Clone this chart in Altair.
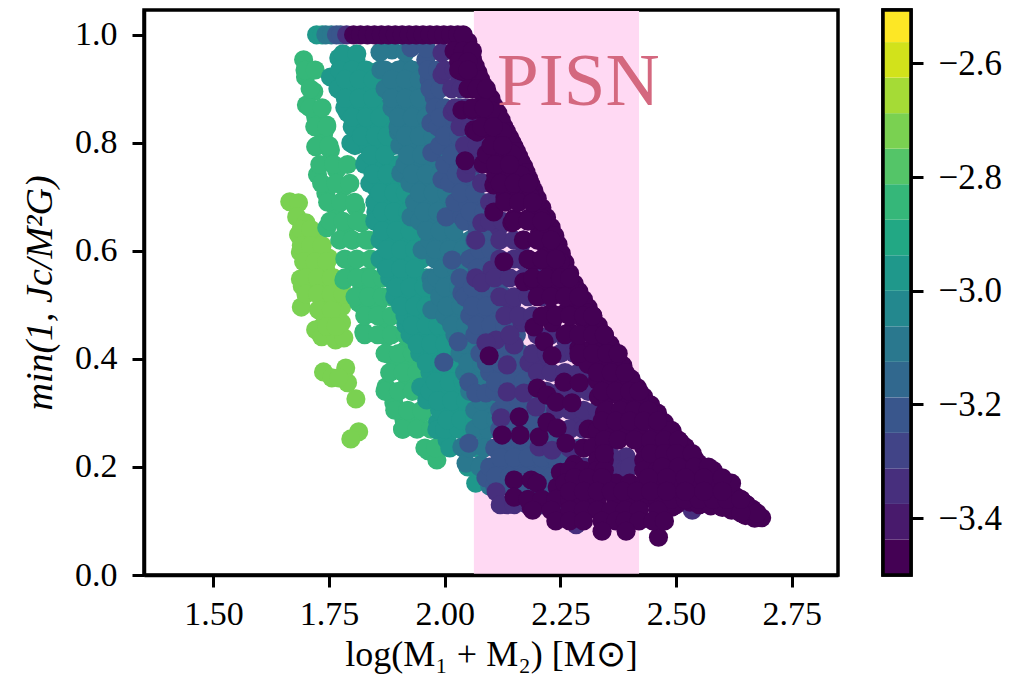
import altair as alt
import pandas as pd

VIRIDIS = ["#440154", "#481a6c", "#472f7d", "#414487", "#39568c", "#31688e", "#2a788e", "#23888e",
           "#1f988b", "#22a884", "#35b779", "#54c568", "#7ad151", "#a5db36", "#d2e21b", "#fde725"]
EDGES = [-3.5 + i / 16 for i in range(17)]

s12 = [(1.665,.691),(1.684,.689),(1.68,.663),(1.70,.652),(1.684,.630),(1.717,.633),(1.688,.598),(1.723,.606),
       (1.749,.587),(1.706,.578),(1.688,.548),(1.743,.565),(1.719,.593),(1.738,.546),(1.712,.528),(1.692,.535),
       (1.777,.528),(1.743,.509),(1.69,.496),(1.777,.496),(1.764,.485),(1.727,.491),(1.777,.467),(1.738,.463),
       (1.721,.454),(1.734,.441),(1.764,.435),(1.782,.439),(1.749,.469),(1.76,.51),(1.76,.55),(1.72,.56),
       (1.738,.376),(1.756,.365),(1.786,.383),(1.79,.356),(1.771,.365),(1.808,.326),(1.814,.265),(1.797,.252)]
r12 = [(.64,[1.69,1.71]),(.61,[1.69,1.71,1.735]),(.58,[1.695,1.72,1.745]),(.55,[1.70,1.725,1.755]),
       (.52,[1.70,1.725,1.755,1.78]),(.49,[1.73,1.755]),(.46,[1.745,1.765])]
s10 = [(1.695,.954),(1.699,.922),(1.717,.895),(1.701,.870),(1.721,.848),(1.745,.833),(1.738,.815),(1.721,.793),
       (1.753,.787),(1.725,.741),(1.766,.750),(1.743,.707),(1.782,.719),(1.764,.681),(1.808,.681),(1.745,.643),
       (1.786,.644),(1.82,.652),(1.80,.620),(1.836,.620),(1.80,.578),(1.842,.583),(1.782,.546),(1.829,.552),
       (1.82,.528),(1.842,.533),(1.84,.485),(1.814,.504),(1.857,.504),(1.873,.472),(1.825,.45),(1.875,.441),
       (1.883,.407),(1.916,.417),(1.90,.385),(1.922,.389),(1.873,.348),(1.89,.319),(1.916,.348),(1.912,.287),
       (1.909,.270),(1.938,.287),(1.951,.30),(1.964,.23),(1.983,.213)]
r10 = [(.935,[1.698,1.72]),(.90,[1.709]),(.865,[1.709,1.735]),(.83,[1.719,1.745]),(.795,[1.724,1.75]),
       (.76,[1.73,1.76,1.79]),(.725,[1.734,1.765,1.795]),(.69,[1.747,1.775,1.805]),(.655,[1.752,1.78,1.81]),
       (.62,[1.773,1.80,1.83]),(.585,[1.784,1.81,1.84]),(.55,[1.784,1.81,1.84,1.865]),
       (.515,[1.806,1.835,1.865,1.885]),(.48,[1.827,1.855,1.885,1.905]),(.445,[1.827,1.855,1.885,1.915]),
       (.41,[1.871,1.90,1.93]),(.375,[1.881,1.91,1.94]),(.34,[1.871,1.90,1.93]),(.305,[1.892,1.92,1.95]),
       (.27,[1.909,1.94,1.97]),(.235,[1.957,1.98])]
s8 = [(1.723,1.0),(1.735,1.0),(1.771,.957),(1.753,.922),(1.775,.902),(1.808,.954),(1.814,.917),(1.79,.856),(1.829,.880),
      (1.84,.837),(1.797,.80),(1.829,.796),(1.864,.787),(1.829,.765),(1.875,.75),(1.851,.717),(1.886,.713),
      (1.851,.672),(1.90,.676),(1.873,.626),(1.916,.626),(1.873,.569),(1.907,.583),(1.938,.602),(1.894,.531),
      (1.929,.509),(1.916,.463),(1.938,.444),(1.966,.430),(1.959,.478),(1.994,.374),(2.024,.398),(2.016,.330),
      (2.046,.385),(2.046,.30),(1.948,.348),(1.961,.324),(1.985,.283),(1.983,.269),(2.005,.25),(2.067,.17),
      (1.78,.965),(1.81,.965)]
r8 = [(.935,[1.773,1.80,1.83,1.86]),(.90,[1.769,1.80,1.83,1.86]),(.865,[1.784,1.815,1.845,1.875]),
      (.83,[1.80,1.83,1.86,1.885]),(.795,[1.806,1.835,1.865,1.89]),(.76,[1.827,1.855,1.885,1.90]),
      (.725,[1.838,1.865,1.895,1.92]),(.69,[1.849,1.875,1.905,1.93]),(.655,[1.849,1.88,1.91,1.94]),
      (.62,[1.86,1.89,1.92,1.95]),(.585,[1.86,1.89,1.92,1.95]),(.55,[1.881,1.91,1.94,1.96]),
      (.515,[1.892,1.92,1.95,1.97]),(.48,[1.914,1.94,1.97,1.99]),(.445,[1.925,1.955,1.985,2.01]),
      (.41,[1.946,1.975,2.005,2.03]),(.375,[1.968,1.995,2.025,2.05]),(.34,[1.968,2.0,2.03,2.06]),
      (.305,[1.989,2.02,2.05,2.08]),(.27,[2.0,2.03,2.06,2.09]),(.235,[2.011,2.04,2.07]),(.20,[2.05,2.08]),
      (.9175,[1.785,1.815,1.845]),(.8825,[1.785,1.815,1.845]),(.8475,[1.80,1.83,1.86]),(.8125,[1.82,1.85,1.875]),
      (.7775,[1.84,1.87]),(.7425,[1.845,1.875,1.905]),(.7075,[1.86,1.89,1.915]),(.6725,[1.865,1.89,1.92]),
      (.6375,[1.865,1.895,1.925]),(.6025,[1.875,1.905,1.935]),(.5675,[1.875,1.905,1.935]),
      (.5325,[1.895,1.925,1.955]),(.4975,[1.905,1.935,1.96]),(.4625,[1.93,1.96,1.985]),(.4275,[1.94,1.97,2.0]),
      (.3925,[1.96,1.99,2.02]),(.3575,[1.98,2.01,2.04]),(.3225,[1.985,2.015,2.045]),(.2875,[2.005,2.035,2.065])]
s6 = [(1.743,1.0),(1.755,1.0),(1.862,.935),(1.886,.972),(1.916,.941),(1.883,.904),(1.907,.874),(1.938,.861),(1.90,.82),
      (1.938,.819),(1.927,.787),(1.905,.744),(1.944,.737),(1.959,.707),(1.927,.663),(1.966,.663),(2.003,.639),
      (1.951,.602),(1.987,.602),(1.97,.55),(2.016,.559),(2.03,.615),(1.972,.537),(1.972,.491),(2.009,.478),
      (2.03,.454),(2.059,.404),(2.083,.281),(2.078,.204),(2.037,.237),(2.046,.207),(2.085,.241),(2.102,.311),
      (1.86,.968),(1.915,.968)]
r6 = [(.935,[1.871,1.90,1.93,1.96]),(.90,[1.871,1.90,1.93,1.96]),(.865,[1.886,1.915,1.945,1.975]),
      (.83,[1.899,1.93,1.96,1.985]),(.795,[1.903,1.93,1.96,1.99]),(.76,[1.914,1.945,1.975,2.0]),
      (.725,[1.925,1.955,1.985,2.01]),(.69,[1.935,1.965,1.995,2.02]),(.655,[1.946,1.975,2.005,2.04]),
      (.62,[1.968,1.995,2.025,2.055]),(.585,[1.979,2.005,2.035,2.05]),(.55,[1.983,2.01,2.04]),
      (.515,[1.989,2.02,2.05]),(.48,[2.0,2.03,2.06]),(.445,[2.022,2.05,2.08]),(.41,[2.033,2.06,2.09]),
      (.375,[2.043,2.07,2.10]),(.34,[2.054,2.085,2.115]),(.305,[2.065,2.095,2.125]),(.27,[2.065,2.095,2.125]),
      (.235,[2.054,2.085,2.115]),(.20,[2.076,2.105]),(.165,[2.097,2.125]),
      (.9175,[1.885,1.915,1.945]),(.8825,[1.885,1.915,1.945]),(.8475,[1.90,1.93,1.96]),(.8125,[1.915,1.945,1.975]),
      (.7775,[1.92,1.95,1.98]),(.7425,[1.93,1.96,1.99]),(.7075,[1.945,1.975,2.005]),(.6725,[1.955,1.985,2.015]),
      (.6375,[1.96,1.99,2.02]),(.6025,[1.98,2.01,2.04]),(.5675,[1.995,2.025,2.05]),(.5325,[2.0,2.03]),
      (.4975,[2.005,2.035]),(.4625,[2.015,2.045]),(.4275,[2.04,2.07]),(.3925,[2.05,2.08]),(.3575,[2.06,2.09]),
      (.3225,[2.08,2.11]),(.2875,[2.08,2.11])]
s4 = [(1.766,1.0),(1.775,1.0),(1.927,.976),(1.959,.954),(1.966,.917),(1.977,.885),(1.994,.856),(1.97,.837),(2.003,.809),
      (1.972,.782),(1.994,.732),(2.031,.732),(2.059,.694),(2.003,.663),(2.037,.663),(2.08,.639),(2.016,.583),
      (2.059,.587),(2.102,.602),(2.037,.522),(2.059,.478),(2.096,.485),(2.029,.432),(1.998,.394),(2.052,.357),
      (2.067,.337),(2.089,.337),(2.052,.244),(2.089,.18),(2.122,.191),(2.132,.231),(2.176,.20),(1.96,.975)]
r4 = [(.935,[1.963,1.985]),(.90,[1.968,1.99]),(.865,[1.979,2.0,2.03]),(.83,[1.985,2.015,2.04]),
      (.795,[1.989,2.02,2.05]),(.76,[2.0,2.03,2.06]),(.725,[2.011,2.04,2.07]),(.69,[2.022,2.05,2.08]),
      (.655,[2.043,2.07,2.095]),(.62,[2.065,2.09,2.115]),(.585,[2.054,2.085,2.115]),
      (.55,[2.033,2.065,2.095,2.12]),(.515,[2.043,2.07,2.10,2.13]),(.48,[2.054,2.085,2.115,2.14]),
      (.445,[2.065,2.095,2.125,2.155]),(.41,[2.076,2.105,2.135,2.165]),(.375,[2.097,2.125,2.155,2.185]),
      (.34,[2.108,2.14,2.17,2.20]),(.305,[2.119,2.15,2.18,2.21,2.24]),(.27,[2.119,2.15,2.18,2.21,2.24,2.27]),
      (.235,[2.108,2.14,2.17,2.20,2.23,2.26,2.29]),(.20,[2.097,2.125,2.155,2.185,2.215,2.245,2.275,2.305]),
      (.165,[2.108,2.14,2.17,2.20,2.23,2.26,2.29]),(.13,[2.18,2.21,2.24,2.27,2.30]),
      (.8475,[1.99,2.02]),(.8125,[2.0,2.03]),(.7775,[2.015,2.045]),(.7425,[2.025,2.055]),(.7075,[2.035,2.065]),
      (.6725,[2.055,2.085]),(.6375,[2.07,2.10]),(.6025,[2.075,2.10]),(.5675,[2.07,2.10]),(.5325,[2.06,2.09,2.115]),
      (.4975,[2.06,2.09,2.12]),(.4625,[2.07,2.10,2.13]),(.4275,[2.09,2.12,2.15]),(.3925,[2.09,2.12,2.15,2.18]),
      (.3575,[2.11,2.14,2.17]),(.3225,[2.13,2.16,2.19]),(.2875,[2.135,2.165,2.195,2.225]),
      (.2525,[2.13,2.16,2.19,2.22,2.25]),(.2175,[2.12,2.15,2.18,2.21,2.24,2.27]),
      (.1825,[2.11,2.14,2.17,2.20,2.23,2.26])]
s2 = [(1.788,1.0),(1.994,.967),(1.994,.926),(2.024,.904),(2.016,.857),(2.037,.837),(2.067,.787),(2.046,.744),
      (2.08,.726),(2.08,.652),(2.117,.644),(2.067,.62),(2.167,.615),(2.102,.565),(2.067,.55),(2.167,.583),
      (2.08,.541),(2.145,.504),(2.167,.467),(2.111,.435),(2.089,.43),(2.15,.426),(2.135,.389),(2.182,.393),
      (2.21,.385),(2.135,.339),(2.171,.337),(2.122,.291),(2.197,.311),(2.204,.237),(2.232,.231),(2.291,.287),
      (2.319,.30),(2.111,.154),(2.135,.13),(2.284,.093),(2.535,.12),(2.392,.219),(2.262,.435),(2.327,.356),
      (2.36,.22),(2.37,.195),(2.39,.195),(2.35,.175)]
r2 = [(.935,[2.0,2.02]),(.90,[2.015,2.035]),(.865,[2.022,2.045]),(.83,[2.033,2.055]),(.795,[2.043,2.07]),
      (.76,[2.054,2.08]),(.725,[2.08,2.10]),(.69,[2.097,2.115]),(.655,[2.097,2.125]),(.62,[2.119,2.15,2.17]),
      (.585,[2.119,2.15,2.18]),(.55,[2.108,2.14,2.17,2.20]),(.515,[2.119,2.15,2.18,2.21]),
      (.48,[2.13,2.16,2.19,2.22]),(.445,[2.141,2.20,2.23,2.26]),(.41,[2.19,2.22,2.25,2.28,2.31]),
      (.375,[2.20,2.23,2.26,2.29,2.32]),(.34,[2.22,2.25,2.28,2.31,2.34]),(.305,[2.24,2.27,2.30,2.33]),
      (.27,[2.27,2.30,2.33]),(.235,[2.27,2.30]),(.20,[2.30,2.34,2.40]),(.13,[2.12,2.15,2.18,2.55])]
s0_points = [(2.044,.767),(2.083,.761),(2.037,.932),(2.037,.861),(2.063,.824),(2.106,.722),(2.106,.672),(2.145,.652),
             (2.128,.58),(2.171,.543),(2.193,.543),(2.208,.583),(2.096,.406),(2.193,.459),(2.232,.467),(2.215,.432),
             (2.232,.406),(2.20,.346),(2.221,.333),(2.241,.32),(2.258,.357),(2.291,.356),(2.275,.319),(2.332,.33),
             (2.291,.404),(2.161,.293),(2.124,.259),(2.163,.259),(2.204,.256),(2.221,.283),(2.243,.272),(2.262,.244),
             (2.15,.176),(2.187,.176),(2.15,.144),(2.187,.124),(2.243,.163),(2.241,.107),(2.462,.070),
             (2.30,.235),(2.28,.205),(2.25,.19),(2.28,.19),(2.31,.27)]
s0_edge = [(2.05,.987),(2.06,.955),(2.072,.93),(2.085,.905),(2.10,.882),(2.115,.855),(2.128,.83),(2.14,.81),
           (2.15,.793),(2.16,.775),(2.171,.756),(2.182,.733),(2.193,.711),(2.21,.68),(2.23,.644),(2.245,.612),
           (2.26,.578),(2.28,.539),(2.30,.51),(2.32,.48),(2.345,.444),(2.37,.41),(2.403,.363),(2.43,.33),
           (2.46,.30),(2.492,.265),(2.53,.225),(2.566,.189),(2.60,.165),(2.641,.139),(2.665,.122),(2.685,.106),
           (2.67,.105),(2.65,.11),(2.62,.12),(2.59,.13),(2.56,.135),(2.53,.135),(2.50,.13)]
s0_edge_mid = [(2.055,.97),(2.066,.942),(2.078,.917),(2.092,.893),(2.107,.868),(2.122,.842),(2.134,.82),(2.145,.801),
               (2.155,.784),(2.165,.765),(2.176,.745),(2.187,.722),(2.20,.697),(2.22,.662),(2.238,.628),(2.252,.595),
               (2.27,.558),(2.29,.525),(2.31,.495),(2.332,.462),(2.357,.427),(2.385,.388),(2.416,.347),(2.445,.315),
               (2.475,.282),(2.51,.245),(2.548,.207),(2.583,.177),(2.62,.152),(2.653,.13)]
s0_tail = [(2.52,.235),(2.54,.215),(2.555,.20),(2.575,.183),(2.59,.172),(2.61,.158),(2.63,.145),(2.65,.132),(2.675,.115),
           (2.55,.13),(2.575,.128),(2.60,.125),(2.64,.115),(2.47,.12),(2.49,.125)]
s0_inner = [(2.03,.96),(2.05,.93),(2.06,.90),(2.08,.87),(2.095,.845),(2.11,.815),(2.125,.785),(2.14,.76),(2.155,.73),
            (2.17,.70),(2.19,.665),(2.205,.635),(2.22,.605),(2.235,.575),(2.255,.54),(2.27,.51),(2.29,.48),(2.31,.45),
            (2.335,.415),(2.355,.385),(2.38,.35),(2.405,.32),(2.43,.29),(2.46,.26),(2.49,.23),(2.525,.195),(2.56,.165),
            (2.60,.145)]
s0_top = [1.803,1.818,1.833,1.848,1.863,1.878,1.893,1.908,1.923,1.938,1.953,1.968,1.983,1.998,2.013,2.028,2.04]
s0_rows = [(.97,[2.02,2.04,2.06]),(.95,[2.03,2.05]),(.90,[2.05,2.07,2.09]),(.86,[2.06,2.08,2.10]),
           (.82,[2.07,2.10,2.125]),(.78,[2.09,2.12,2.145]),(.74,[2.11,2.14,2.165]),(.70,[2.13,2.16,2.185]),
           (.66,[2.15,2.18,2.21]),(.62,[2.17,2.20,2.23]),(.58,[2.19,2.22,2.25]),(.54,[2.22,2.25,2.27]),
           (.485,[2.23,2.26,2.29,2.31]),(.45,[2.27,2.30,2.33]),(.42,[2.29,2.32,2.36]),(.39,[2.31,2.34,2.38]),
           (.36,[2.33,2.36,2.40]),(.33,[2.35,2.38,2.42]),(.30,[2.345,2.38,2.42,2.45]),
           (.268,[2.33,2.36,2.39,2.42,2.46,2.49]),(.237,[2.32,2.345,2.43,2.46,2.49,2.52]),
           (.213,[2.33,2.345,2.43,2.46,2.50,2.54]),(.194,[2.27,2.30,2.33,2.345,2.43,2.46,2.50,2.54,2.58]),
           (.17,[2.20,2.26,2.29,2.31,2.37,2.40,2.43,2.46,2.50,2.54,2.58,2.62]),
           (.14,[2.18,2.21,2.24,2.27,2.30,2.33,2.37,2.40,2.43,2.46,2.49,2.52,2.55,2.58,2.61,2.64]),
           (.12,[2.19,2.23,2.27,2.30,2.33,2.36,2.39,2.42,2.46]),
           (.10,[2.24,2.27,2.30,2.34,2.37,2.39,2.42,2.45,2.475]),(.081,[2.34,2.392]),
           (.935,[2.03,2.05]),(.865,[2.06,2.085]),(.83,[2.08,2.105]),(.795,[2.10,2.125]),(.76,[2.11,2.14]),
           (.725,[2.12,2.15,2.18]),(.69,[2.13,2.16,2.19]),(.655,[2.15,2.18,2.21]),(.585,[2.18,2.21,2.24]),
           (.55,[2.19,2.22,2.25,2.27]),(.515,[2.20,2.23,2.26,2.29]),(.48,[2.21,2.24,2.27,2.30,2.32]),
           (.445,[2.26,2.29,2.32,2.345]),(.41,[2.29,2.32,2.35,2.375]),(.375,[2.33,2.36,2.39]),
           (.34,[2.34,2.37,2.40,2.42]),(.305,[2.35,2.38,2.41,2.44]),(.285,[2.34,2.37,2.40,2.43,2.46]),
           (.25,[2.345,2.375,2.41,2.445,2.475,2.505]),(.225,[2.345,2.445,2.475,2.50,2.535]),
           (.20,[2.47,2.505,2.54,2.57]),(.18,[2.28,2.31,2.34,2.44,2.48,2.52,2.56,2.60]),
           (.155,[2.27,2.30,2.33,2.36,2.385,2.415,2.445,2.48,2.52,2.56,2.60])]

xticks = [1.50, 1.75, 2.00, 2.25, 2.50, 2.75]
yticks = [0.0, 0.2, 0.4, 0.6, 0.8, 1.0]
cticks = [-3.4, -3.2, -3.0, -2.8, -2.6]
span_x, span_x2 = 2.063, 2.42
span_y, span_y2 = 0.0, 1.044
XDOM = [1.35, 2.85]
YDOM = [0.0, 1.046]
CDOM = [-3.5, -2.506]
FONT = "Liberation Serif"
INK = "#000000"


def flat(points, row_list):
    out = list(points)
    for yy, xs in row_list:
        out += [(a, yy) for a in xs]
    return out


rows = []
s0_all = s0_points + s0_edge + s0_edge_mid + s0_tail + s0_inner + [(a, 1.0) for a in s0_top]
for idx, pts in [(12, flat(s12, r12)), (10, flat(s10, r10)), (8, flat(s8, r8)), (6, flat(s6, r6)),
                 (4, flat(s4, r4)), (2, flat(s2, r2)), (0, flat(s0_all, s0_rows))]:
    rows += [{"x": a, "y": b, "v": EDGES[idx] + 0.03} for a, b in pts]
df = pd.DataFrame(rows)

xscale = alt.Scale(domain=XDOM, nice=False, zero=False)
yscale = alt.Scale(domain=YDOM, nice=False, zero=False)

span = alt.Chart(pd.DataFrame([{"a": span_x, "b": span_x2, "c": span_y, "d": span_y2}])).mark_rect(
    color="#ffd9f3", opacity=1
).encode(
    x=alt.X("a:Q", scale=xscale, axis=alt.Axis(
        values=xticks, format=".2f", title="log(M₁ + M₂) [M⊙]", grid=False, zindex=1,
        domainWidth=3.5, domainColor=INK, tickWidth=3, tickColor=INK, tickSize=12,
        labelFontSize=34, titleFontSize=36, labelFont=FONT, titleFont=FONT, labelColor=INK,
        titleColor=INK, titleFontWeight="normal", labelPadding=10, titlePadding=6, labelFlush=False)),
    x2="b:Q",
    y=alt.Y("c:Q", scale=yscale, axis=alt.Axis(
        values=yticks, format=".1f", title="min(1, Jc/M²G)", grid=False, zindex=1,
        domainWidth=3.5, domainColor=INK, tickWidth=3, tickColor=INK, tickSize=12,
        labelFontSize=34, titleFontSize=38, labelFont=FONT, titleFont=FONT, labelColor=INK,
        titleColor=INK, titleFontWeight="normal", titleFontStyle="italic", labelPadding=15, titlePadding=15,
        labelFlush=False)),
    y2="d:Q",
)

points = alt.Chart(df).mark_circle(size=365, opacity=1, stroke=None).encode(
    x=alt.X("x:Q", scale=xscale),
    y=alt.Y("y:Q", scale=yscale),
    color=alt.Color("v:Q", legend=None, scale=alt.Scale(type="threshold", domain=EDGES[1:-1], range=VIRIDIS)),
)

label = alt.Chart(pd.DataFrame([{"x": 2.113, "y": 0.87, "t": "PISN"}])).mark_text(
    font=FONT, fontSize=75, color="#d4687f", align="left", baseline="alphabetic"
).encode(x=alt.X("x:Q", scale=xscale), y=alt.Y("y:Q", scale=yscale), text="t:N")

main = alt.layer(span, points, label).properties(width=694, height=565)

cscale = alt.Scale(domain=CDOM, nice=False, zero=False)
cbar_df = pd.DataFrame({"lo": EDGES[:-1], "hi": EDGES[1:], "col": VIRIDIS})
cbar_rects = alt.Chart(cbar_df).mark_rect(clip=True).encode(
    y=alt.Y("lo:Q", scale=cscale, axis=alt.Axis(
        orient="right", values=cticks, format=".1f", title=None, grid=False, domain=False,
        tickWidth=3, tickColor=INK, tickSize=12, labelFontSize=35, labelFont=FONT, labelColor=INK,
        labelPadding=15, labelFlush=False)),
    y2="hi:Q",
    color=alt.Color("col:N", scale=None),
)
cbar_frame = alt.Chart(pd.DataFrame([{"lo": CDOM[0], "hi": CDOM[1]}])).mark_rect(
    fillOpacity=0, stroke=INK, strokeWidth=3.5
).encode(y=alt.Y("lo:Q", scale=cscale), y2="hi:Q")
cbar = alt.layer(cbar_rects, cbar_frame).properties(width=28, height=565)

chart = alt.hconcat(main, cbar, spacing=39).configure_view(stroke=INK, strokeWidth=3.5).properties(
    padding={"left": 11, "top": -2, "right": 0, "bottom": 0}, background="white"
)
chart.save("out.html", embed_options={"renderer": "svg", "actions": False})
